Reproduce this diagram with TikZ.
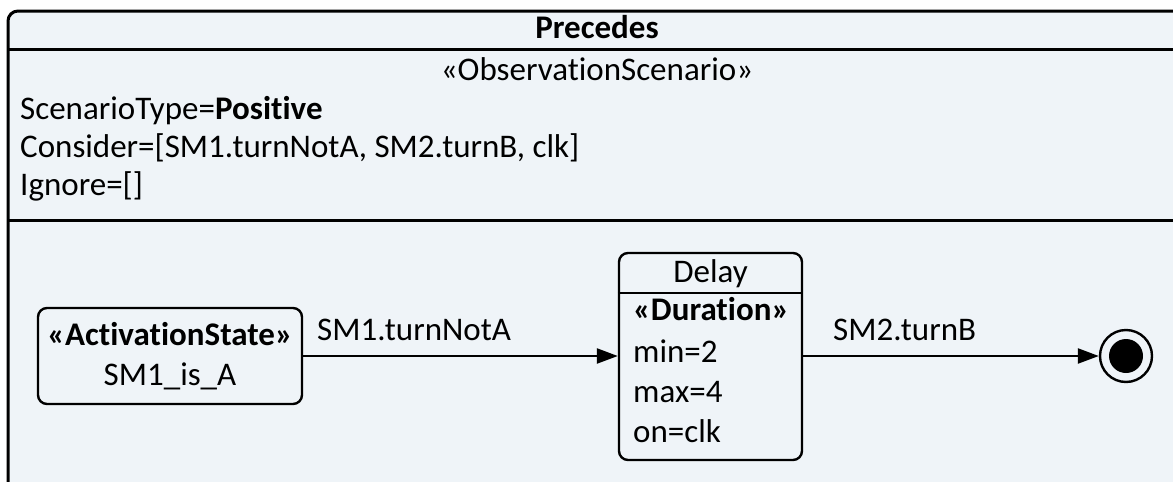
\documentclass[tikz,border=0pt]{standalone}
\usepackage{fontspec}
\setmainfont{Carlito}[Ligatures=NoCommon]
\usepackage{tikz}
\usetikzlibrary{arrows.meta}
\usetikzlibrary{positioning}
\definecolor{paleblue}{RGB}{239, 244, 248}

\tikzset{
  umlbox/.style={draw, line width=2.4pt, rounded corners=9pt, fill=paleblue, inner sep=0pt},
  umltext/.style={inner sep=0pt, font=\fontsize{33}{39}\selectfont},
  transition/.style={line width=2.4pt, -{Triangle[length=21pt,width=15pt]}},
  frameline/.style={line width=3pt}
}

\begin{document}
\begin{tikzpicture}[x=1pt, y=-1pt]
            \useasboundingbox (0,0) rectangle (1173,482);
            \clip (0,0) rectangle (1173,482);
            \filldraw[fill=paleblue, frameline] (8,500) {[rounded corners=10pt] -- (8,11) -- (1200,11)} -- (1200,500);
            \draw[frameline]                    (8,49)  -- (1200,49);
            \draw[frameline]                    (8,220) -- (1200,220);
            \node[umltext, anchor=base]       (title)  at (597,38)  {\bfseries Precedes};
            \node[umltext, anchor=base]       (stereo) at (597,80)  {«ObservationScenario»};
            \node[umltext, anchor=base west]  (kind)   at (20,119)  {ScenarioType=\textbf{Positive}};
            \node[umltext, anchor=base west]  (consid) at (20,157)  {Consider=[SM1.turnNotA, SM2.turnB, clk]};
            \node[umltext, anchor=base west]  (ignore) at (20,195)  {Ignore=[]};
            \node[umlbox, minimum width=264, minimum height=96]  (state) at (170,356) {};
            \node[umltext, anchor=base]       (stateSt)   at (170,345) {\bfseries «ActivationState»};
            \node[umltext, anchor=base]       (stateName) at (170,385) {SM1\_is\_A};
            \node[umlbox, minimum width=183, minimum height=207] (delay) at (710.5,356.5) {};
            \draw[line width=2.4pt] (delay.west |- 0,293) -- (delay.east |- 0,293);
            \node[umltext, anchor=base]       (delayName) at (710.5,282) {Delay};
            \node[umltext, anchor=base west]  (delaySt)   at (633,320) {\bfseries «Duration»};
            \node[umltext, anchor=base west]  (delayMin)  at (633,362) {min=2};
            \node[umltext, anchor=base west]  (delayMax)  at (633,402) {max=4};
            \node[umltext, anchor=base west]  (delayOn)   at (633,442) {on=clk};
            \node[circle, draw, line width=2.4pt, minimum size=52, inner sep=0pt] (final) at (1126,356) {};
            \fill (final.center) circle (17);
            \draw[transition] (state.east) -- (delay.west |- state.east);
            \draw[transition] (delay.east |- final.west) -- (final.west);
            \node[umltext, anchor=base west]  (trigA) at (317,340) {SM1.turnNotA};
            \node[umltext, anchor=base west]  (trigB) at (833,340) {SM2.turnB};
\end{tikzpicture}
\end{document}
